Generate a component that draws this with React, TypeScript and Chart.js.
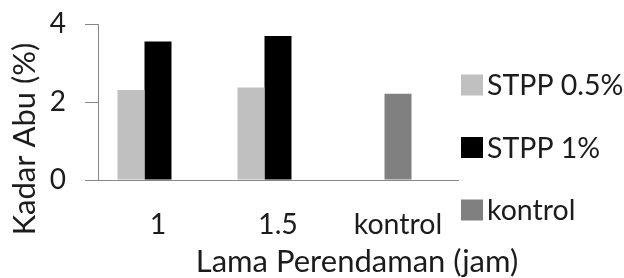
import React, { useEffect, useRef } from "react";
import { Chart, registerables } from "chart.js";

Chart.register(...registerables);

// ---- data ----
const categories = ["1", "1.5", "kontrol"];
const stpp05 = [2.31, 2.37, null];
const stpp1 = [3.55, 3.69, null];
const kontrol = [null, null, 2.21];
const yTicks = [0, 2, 4];
const seriesLabels = ["STPP 0.5%", "STPP 1%", "kontrol"];
const xTitle = "Lama Perendaman (jam)";
const yTitle = "Kadar Abu (%)";

// ---- styles ----
const seriesColors = ["#c0c0c0", "#000000", "#808080"];
const FONT = "Lato";
const TEXT = "#1c1c1c";
const AXIS = "#868686";

const overlayPlugin = {
  id: "overlay",
  afterDraw(chart: any) {
    const { ctx, chartArea } = chart;
    ctx.save();
    ctx.fillStyle = TEXT;
    ctx.textBaseline = "middle";
    ctx.textAlign = "center";
    // x title
    ctx.font = `31px ${FONT}`;
    ctx.fillText(xTitle, (chartArea.left + chart.width) / 2 - 4, chartArea.bottom + 82);
    // y title
    ctx.save();
    ctx.font = `31px ${FONT}`;
    ctx.translate(25, chart.height / 2);
    ctx.rotate(-Math.PI / 2);
    ctx.fillText(yTitle, 0, 0);
    ctx.restore();
    // legend
    ctx.font = `28.5px ${FONT}`;
    ctx.textAlign = "left";
    seriesLabels.forEach((label, i) => {
      const cy = chartArea.top + 61 + i * 62.5;
      ctx.fillStyle = seriesColors[i];
      ctx.fillRect(chartArea.right + 3, cy - 10.5, 22, 21);
      ctx.fillStyle = TEXT;
      ctx.fillText(label, chartArea.right + 29, cy + 1);
    });
    ctx.restore();
  },
};

export default function App() {
  const ref = useRef<HTMLCanvasElement>(null);
  useEffect(() => {
    if (!ref.current) return;
    const chart = new Chart(ref.current, {
      type: "bar",
      data: {
        labels: categories,
        datasets: [
          { label: seriesLabels[0], data: stpp05, backgroundColor: seriesColors[0], stack: "s1" },
          { label: seriesLabels[1], data: stpp1, backgroundColor: seriesColors[1], stack: "s2" },
          { label: seriesLabels[2], data: kontrol, backgroundColor: seriesColors[2], stack: "s2" },
          // empty third slot of each cluster (as in the original spreadsheet chart)
          { label: "", data: [null, null, null], backgroundColor: "rgba(0,0,0,0)", stack: "s3" },
        ],
      },
      options: {
        animation: false,
        responsive: false,
        events: [],
        layout: { padding: { top: 24, right: 166, left: 0, bottom: 0 } },
        datasets: { bar: { categoryPercentage: 0.675, barPercentage: 1 } },
        plugins: { legend: { display: false }, tooltip: { enabled: false }, title: { display: false } },
        scales: {
          x: {
            grid: { display: false, drawTicks: false },
            border: { display: true, color: AXIS, width: 1 },
            ticks: { color: TEXT, font: { family: FONT, size: 28.5 }, padding: 28, maxRotation: 0 },
            afterFit: (s: any) => { s.height = 98; s.paddingLeft = 0; s.paddingRight = 0; },
          },
          y: {
            min: 0,
            max: 4,
            stacked: false,
            afterBuildTicks: (s: any) => { s.ticks = yTicks.map((v) => ({ value: v })); },
            grid: { drawOnChartArea: false, drawTicks: true, tickLength: 13, color: AXIS },
            border: { display: true, color: AXIS, width: 1 },
            ticks: { color: TEXT, font: { family: FONT, size: 28 }, padding: 19 },
            afterFit: (s: any) => { s.width = 98; s.paddingTop = 0; s.paddingBottom = 0; },
          },
        },
      },
      plugins: [overlayPlugin],
    });
    return () => chart.destroy();
  }, []);
  return (
    <div style={{ position: "fixed", left: 0, top: 0, width: 624, height: 278, background: "#fff" }}>
      <canvas ref={ref} width={624} height={278} style={{ display: "block" }} />
    </div>
  );
}
